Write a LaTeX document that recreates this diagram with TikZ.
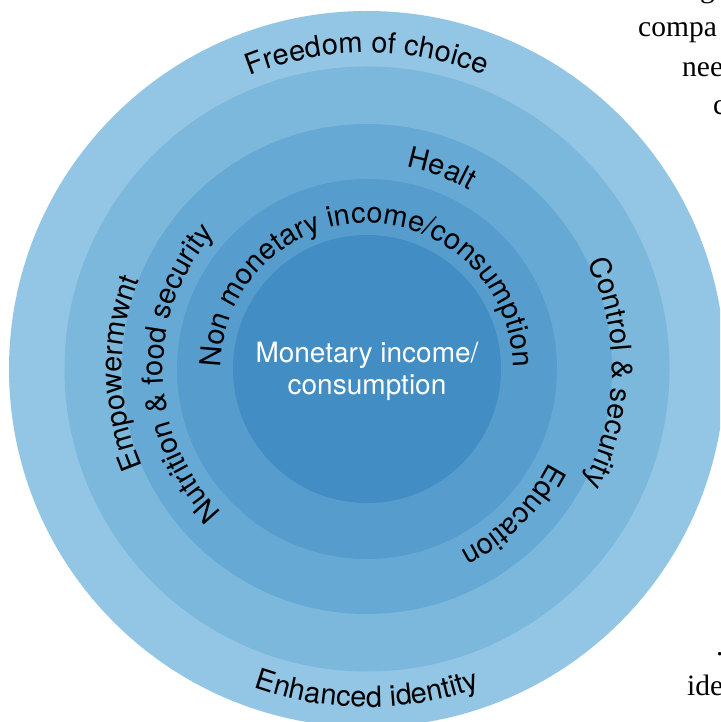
\documentclass[tikz,border=0pt]{standalone}
\usepackage{fontspec}
\setmainfont{TeX Gyre Heros}
\newfontfamily\pagefont{Liberation Serif}
\usetikzlibrary{decorations.text}
\definecolor{ringA}{HTML}{93C6E5}
\definecolor{ringB}{HTML}{7BB8DC}
\definecolor{ringC}{HTML}{66A9D4}
\definecolor{ringD}{HTML}{569DCE}
\definecolor{ringE}{HTML}{438DC5}
\newcommand\arcfont{\fontsize{29}{31}\selectfont}
\newcommand\midfont{\fontsize{28}{32}\selectfont}
\newcommand\pgfont{\pagefont\fontsize{29.5}{38}\selectfont}
\tikzset{
  arctext/.style={decorate, decoration={text along path, text align=center, text={|\arcfont|#1}}},
  midtext/.style={anchor=base, inner sep=0pt, text=white, font=\midfont},
  pagetext/.style={anchor=base west, inner sep=0pt, font=\pgfont}
}
\begin{document}
\begin{tikzpicture}[x=1pt,y=1pt]
\clip (-367,-353) rectangle (353,369);
\fill[white] (-367,-353) rectangle (353,369);
% page text fragments
\node[pagetext] (pg1) at (333,371) {g};
\node[pagetext] (pg2) at (271,332) {compa};
\node[pagetext] (pg3) at (315,292) {nee};
\node[pagetext] (pg4) at (346,254) {c};
\node[pagetext] (pg5) at (349,-286) {.};
\node[pagetext] (pg6) at (320,-326) {ide};
% rings
\fill[ringA] (0,0) circle[radius=358];
\fill[ringB] (0,0) circle[radius=302.5];
\fill[ringC] (0,0) circle[radius=245];
\fill[ringD] (0,0) circle[radius=190];
\fill[ringE] (0,0) circle[radius=134];
% arc labels
\path[arctext={Freedom of choice}] (160:316) arc[start angle=160, end angle=20, radius=316];
\path[arctext={Enhanced identity}] (200:338) arc[start angle=200, end angle=340, radius=338];
\path[arctext={Empowermwnt}] (251:245) arc[start angle=251, end angle=111, radius=245];
\path[arctext={Control {\&} security}] (60:245) arc[start angle=60, end angle=-62, radius=245];
\path[arctext={Nutrition {\&} food security}] (265:204) arc[start angle=265, end angle=98, radius=204];
\path[arctext={Healt}] (110:206) arc[start angle=110, end angle=29, radius=206];
\path[arctext={Education}] (5:205) arc[start angle=5, end angle=-95, radius=205];
\path[arctext={Non monetary income/consumption}] (200:146) arc[start angle=200, end angle=-20, radius=146];
% centre
\node[midtext] (mon1) at (0,6) {Monetary income/};
\node[midtext] (mon2) at (0,-26) {consumption};
\end{tikzpicture}
\end{document}
